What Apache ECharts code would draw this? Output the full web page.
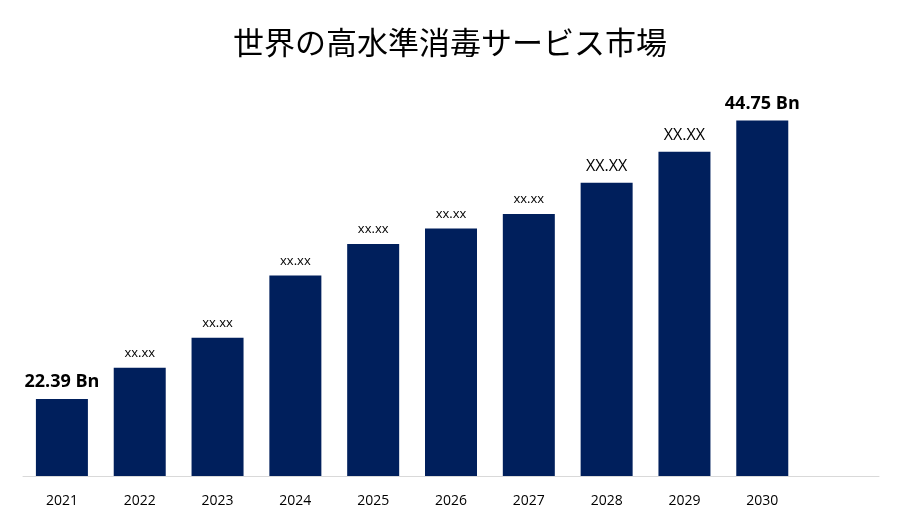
<!DOCTYPE html>
<html>
<head>
<meta charset="utf-8">
<script src="https://cdn.jsdelivr.net/npm/echarts@6/dist/echarts.min.js"></script>
<style>html,body{margin:0;padding:0;background:#fff;}</style>
</head>
<body>
<div id="main" style="width:900px;height:525px;"></div>
<script>
// years, plus one empty slot at the right end like the original
const years = ['2021','2022','2023','2024','2025','2026','2027','2028','2029','2030',''];
const values = [22.39, 24.90, 27.32, 32.32, 34.83, 36.08, 37.24, 39.75, 42.25, 44.75, null];
const labels = ['22.39 Bn','xx.xx','xx.xx','xx.xx','xx.xx','xx.xx','xx.xx','XX.XX','XX.XX','44.75 Bn',''];
const labelSizes = [18, 13, 13, 13, 13, 13, 13, 16, 16, 18, 0];

const chart = echarts.init(document.getElementById('main'));
chart.setOption({
    animation: false,
    title: {
        text: '世界の高水準消毒サービス市場',
        left: 'center',
        top: 22,
        textStyle: {fontFamily: 'Noto Sans CJK JP', fontSize: 31, fontWeight: 'normal', color: '#000'}
    },
    grid: {left: 23, right: 21, top: 80, bottom: 49},
    xAxis: {
        type: 'category',
        data: years,
        axisLine: {lineStyle: {color: '#d9d9d9'}},
        axisTick: {show: false},
        axisLabel: {color: '#000', fontSize: 14, margin: 18, fontFamily: 'Open Sans'}
    },
    yAxis: {type: 'value', min: 16.22, max: 48, show: false, splitLine: {show: false}},
    series: [{
        type: 'bar',
        barWidth: 52,
        itemStyle: {color: '#001f5c'},
        data: values.map((v, i) => ({
            value: v,
            label: {
                show: true,
                position: 'top',
                distance: 8,
                formatter: labels[i],
                fontSize: labelSizes[i],
                fontWeight: (i === 0 || i === 9) ? 'bold' : 'normal',
                color: '#000',
                fontFamily: 'Open Sans'
            }
        }))
    }]
});
</script>
</body>
</html>
